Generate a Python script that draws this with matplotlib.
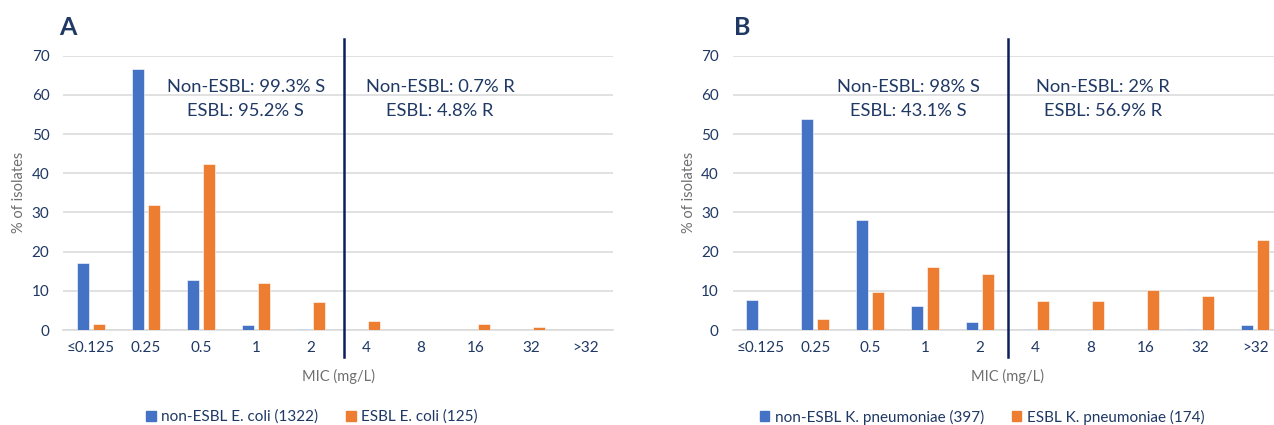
"""
plot.py — MIC distributions for non-ESBL vs ESBL isolates (panels A and B).
"""

import numpy as np
import matplotlib
matplotlib.use('Agg')
import matplotlib.pyplot as plt
import matplotlib.patches as mpatches

plt.rcParams['font.family'] = ['Lato', 'DejaVu Sans']

BLUE = '#4472C4'
ORANGE = '#ED7D31'
NAVY = '#1F3864'
LINE_NAVY = '#0B1F5C'
GRID = '#D9D9D9'
GREY = '#6F6F6F'

# ── Data ──────────────────────────────────────────────────────────────────────

mic_labels = ['≤0.125', '0.25', '0.5', '1', '2', '4', '8', '16', '32', '>32']

ecoli_non_esbl = [17.2, 66.6, 12.8, 1.3, 0.3, 0.1, 0.0, 0.0, 0.0, 0.0]
ecoli_esbl = [1.5, 32.0, 42.4, 11.9, 7.1, 2.4, 0.0, 1.6, 0.8, 0.0]

kpn_non_esbl = [7.7, 53.8, 28.1, 6.0, 2.0, 0.2, 0.0, 0.0, 0.2, 1.4]
kpn_esbl = [0.0, 2.8, 9.6, 16.0, 14.2, 7.4, 7.4, 10.3, 8.6, 22.9]

panel_letters = ['A', 'B']
legend_labels = [
    ['non-ESBL E. coli (1322)', 'ESBL E. coli (125)'],
    ['non-ESBL K. pneumoniae (397)', 'ESBL K. pneumoniae (174)'],
]
s_texts = ['Non-ESBL: 99.3% S\nESBL: 95.2% S', 'Non-ESBL: 98% S\nESBL: 43.1% S']
r_texts = ['Non-ESBL: 0.7% R\nESBL: 4.8% R', 'Non-ESBL: 2% R\nESBL: 56.9% R']

# ── Layout (figure fractions, 1274 x 425 px) ──────────────────────────────────

W, H = 1274, 425
AX_LEFT_PX = [63.3, 732.7]
AX_W_PX = 550
AX_TOP_PX, AX_BOT_PX = 55.7, 330
BREAKPOINT_X = [4.6, 4.5]
S_TEXT_X = [2.82, 2.70]
R_TEXT_X = [6.35, 6.23]
LETTER_X_PX = [59, 734]
LEGEND_CX_PX = [312, 982]


def draw_panel(fig, idx, non_esbl, esbl):
    left = AX_LEFT_PX[idx] / W
    bottom = 1 - AX_BOT_PX / H
    ax = fig.add_axes([left, bottom, AX_W_PX / W, (AX_BOT_PX - AX_TOP_PX) / H])

    x = np.arange(len(mic_labels))
    bw = 0.215
    off = 0.142
    ax.bar(x - off, non_esbl, bw, color=BLUE, edgecolor='white',
           linewidth=0.4, zorder=3)
    ax.bar(x + off, esbl, bw, color=ORANGE, edgecolor='white',
           linewidth=0.4, zorder=3)

    ax.set_xlim(-0.5, len(mic_labels) - 0.5)
    ax.set_ylim(0, 70)
    ax.set_yticks(range(0, 71, 10))
    ax.set_xticks(x)
    ax.set_xticklabels(mic_labels)
    ax.tick_params(axis='both', length=0, labelsize=11, labelcolor=NAVY)
    ax.tick_params(axis='y', pad=10)
    ax.tick_params(axis='x', pad=8)
    ax.grid(axis='y', color=GRID, linewidth=1.1, zorder=0)
    for side in ['top', 'right', 'left']:
        ax.spines[side].set_visible(False)
    ax.spines['bottom'].set_color(GRID)
    ax.spines['bottom'].set_linewidth(1.1)

    ax.set_ylabel('% of isolates', fontsize=10.5, color=GREY, labelpad=4)
    ax.set_xlabel('MIC (mg/L)', fontsize=10.5, color=GREY, labelpad=10)

    # susceptible / resistant breakpoint
    ax.axvline(BREAKPOINT_X[idx], ymin=-0.1, ymax=1.06, color=LINE_NAVY,
               linewidth=1.8, clip_on=False, zorder=4)

    ax.text(S_TEXT_X[idx], 59.0, s_texts[idx], ha='center', va='center',
            fontsize=13.2, color=NAVY, linespacing=1.6, zorder=5)
    ax.text(R_TEXT_X[idx], 59.0, r_texts[idx], ha='center', va='center',
            fontsize=13.2, color=NAVY, linespacing=1.6, zorder=5)

    fig.text(LETTER_X_PX[idx] / W, 1 - 35 / H, panel_letters[idx],
             fontsize=18, fontweight='bold', color=NAVY, va='baseline')

    handles = [mpatches.Patch(color=BLUE, label=legend_labels[idx][0]),
               mpatches.Patch(color=ORANGE, label=legend_labels[idx][1])]
    leg = fig.legend(handles=handles, loc='center',
                     bbox_to_anchor=(LEGEND_CX_PX[idx] / W, 1 - 417 / H),
                     ncol=2, frameon=False, fontsize=11,
                     handlelength=0.65, handleheight=0.65,
                     handletextpad=0.35, columnspacing=1.8)
    for t in leg.get_texts():
        t.set_color(NAVY)
    return ax


def main():
    fig = plt.figure(figsize=(W / 100, H / 100), dpi=100)
    draw_panel(fig, 0, ecoli_non_esbl, ecoli_esbl)
    draw_panel(fig, 1, kpn_non_esbl, kpn_esbl)
    fig.savefig('out.png', dpi=100)


if __name__ == '__main__':
    main()
